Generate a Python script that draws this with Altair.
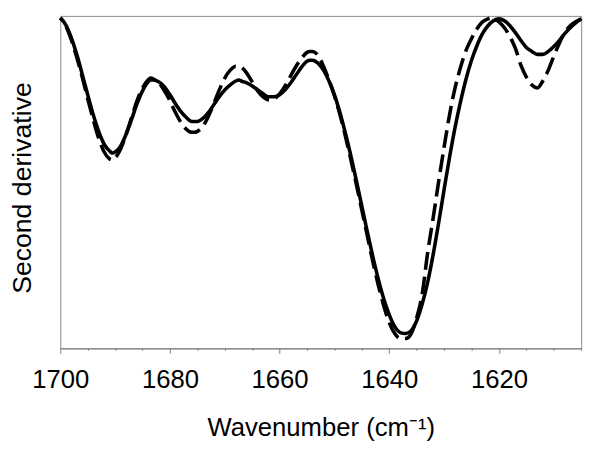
import altair as alt
import pandas as pd

# Wavenumber (cm-1) and second-derivative depth (arbitrary units, negative)
solid_w = [1700, 1699, 1698, 1697, 1696, 1695, 1694, 1693, 1692, 1691, 1690.5, 1690, 1689, 1688, 1687,
           1686, 1685, 1684, 1683.5, 1683, 1682, 1681, 1680, 1679, 1678, 1677, 1676, 1675.5, 1675, 1674,
           1673, 1672, 1671, 1670, 1669, 1668, 1667.4, 1667, 1666, 1665, 1664, 1663, 1662, 1661, 1660,
           1659, 1658, 1657, 1656, 1655, 1654.5, 1654, 1653, 1652, 1651, 1650, 1649, 1648, 1647, 1646,
           1645, 1644, 1643, 1642, 1641, 1640, 1639, 1638, 1637, 1636, 1635, 1634, 1633, 1632, 1631,
           1630, 1629, 1628, 1627, 1626, 1625, 1624, 1623, 1622, 1621, 1620, 1619, 1618, 1617, 1616,
           1615, 1614, 1613, 1612, 1611, 1610, 1609, 1608, 1607, 1606, 1605]
solid_v = [-2, -9, -22, -39, -59, -80, -100, -117, -130, -137, -139, -138, -132, -120, -105,
           -89, -76, -67, -65, -65, -67, -72, -80, -89, -97, -103, -107, -107, -107, -104,
           -98, -90, -82, -75, -70, -66, -65, -66, -68, -71, -75, -79, -82, -82, -80,
           -75, -68, -60, -52, -46, -45, -45, -48, -55, -66, -80, -98, -119, -142, -167,
           -193, -219, -244, -267, -287, -303, -315, -321, -322, -319, -309, -292, -270, -242, -210,
           -176, -143, -113, -87, -64, -45, -30, -18, -10, -5, -3, -5, -10, -17, -25,
           -32, -36, -39, -39, -36, -31, -25, -18, -12, -7, -3]

dash_w = [1700, 1699, 1698, 1697, 1696, 1695, 1694, 1693, 1692, 1691, 1690.5, 1690, 1689, 1688, 1687,
          1686, 1685, 1684, 1683.5, 1683, 1682, 1681, 1680, 1679, 1678, 1677, 1676, 1675.5, 1675, 1674,
          1673, 1672, 1671, 1670, 1669, 1668, 1667.5, 1667, 1666, 1665, 1664, 1663, 1662, 1661, 1660,
          1659, 1658, 1657, 1656, 1655, 1654.5, 1654, 1653, 1652, 1651, 1650, 1649, 1648, 1647, 1646,
          1645, 1644, 1643, 1642, 1641, 1640, 1639, 1638, 1637, 1636, 1635, 1634, 1633, 1632, 1631,
          1630, 1629, 1628, 1627, 1626, 1625, 1624, 1623, 1622, 1621.4, 1621, 1620, 1619, 1618, 1617,
          1616, 1615, 1614, 1613, 1612, 1611, 1610, 1609, 1608, 1607, 1606, 1605]
dash_v = [-2, -10, -24, -42, -62, -84, -105, -124, -138, -145, -146, -144, -135, -120, -103,
          -86, -73, -65, -63, -64, -68, -76, -86, -98, -108, -115, -118, -118, -117, -112,
          -102, -89, -75, -63, -55, -51, -51, -52, -58, -67, -76, -82, -85, -84, -79,
          -71, -61, -51, -43, -37, -36, -36, -40, -51, -65, -81, -100, -122, -146, -171,
          -197, -223, -249, -273, -294, -311, -322, -327, -327, -322, -306, -282, -240, -205, -168,
          -133, -100, -73, -52, -35, -23, -13, -6, -3, -2, -3, -6, -12, -21, -33,
          -50, -62, -70, -73, -66, -55, -41, -28, -17, -10, -6, -3]

tick_values = list(range(1605, 1701, 5))

df_solid = pd.DataFrame({"w": solid_w, "v": solid_v})
df_dash = pd.DataFrame({"w": dash_w, "v": dash_v})

FONT = "Liberation Sans"

x_enc = alt.X(
    "w:Q",
    scale=alt.Scale(domain=[1605, 1700], reverse=True, nice=False, zero=False),
    axis=alt.Axis(
        values=tick_values,
        format="d",
        labelExpr="datum.value % 20 === 0 ? datum.label : ''",
        tickSize={"condition": {"test": "datum.value % 20 === 0", "value": 5}, "value": 2},
        tickColor="#7a7a7a",
        domainColor="#7a7a7a",
        grid=False,
        labelFont=FONT,
        labelFontSize=26,
        labelColor="black",
        labelPadding=14,
        labelFlush=False,
        labelOverlap=False,
        title="Wavenumber (cm⁻¹)",
        titleFont=FONT,
        titleFontSize=26,
        titleFontWeight="normal",
        titleColor="black",
        titleAnchor="middle",
        titleAlign="center",
        titleBaseline="alphabetic",
        titleX=264,
        titleY=88,
    ),
)
y_enc = alt.Y(
    "v:Q",
    scale=alt.Scale(domain=[-337, 0], nice=False, zero=False),
    axis=alt.Axis(
        labels=False,
        ticks=False,
        domain=False,
        grid=False,
        title="Second derivative",
        titleFont=FONT,
        titleFontSize=27,
        titleFontWeight="normal",
        titleColor="black",
        titleAngle=-90,
        titleAlign="center",
        titleBaseline="middle",
        titleX=-38,
        titleY=174,
    ),
)

dashed = alt.Chart(df_dash).mark_line(
    color="black", strokeWidth=3.6, strokeDash=[18, 7], interpolate="monotone"
).encode(x=x_enc, y=y_enc, order="w:Q")

solid = alt.Chart(df_solid).mark_line(
    color="black", strokeWidth=3.6, interpolate="monotone"
).encode(x=x_enc, y=y_enc, order="w:Q")

chart = (
    alt.layer(dashed, solid)
    .properties(
        width=528,
        height=337,
        autosize=alt.AutoSizeParams(type="none"),
        padding={"left": 53, "top": 5, "right": 14, "bottom": 98},
        background="white",
    )
    .configure_view(stroke="#8a8a8a", strokeWidth=1)
)

chart.save("out.html", embed_options={"renderer": "svg", "actions": False})
